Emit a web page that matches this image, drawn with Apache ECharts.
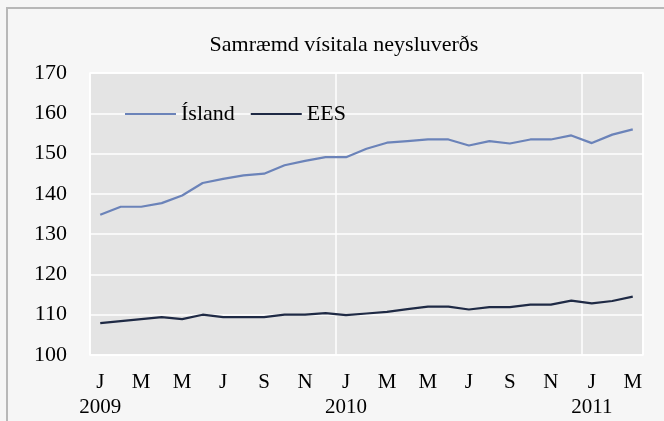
<!DOCTYPE html>
<html>
<head>
<meta charset="utf-8">
<script src="https://cdn.jsdelivr.net/npm/echarts@6/dist/echarts.min.js"></script>
<style>
  html, body { margin: 0; padding: 0; background: #f6f6f6; }
  #chart { width: 664px; height: 421px; }
  .edge { position: absolute; background: #b8b8b8; pointer-events: none; }
</style>
</head>
<body>
<div id="chart"></div>
<div class="edge" style="left:6px;top:7px;width:2px;height:414px;"></div>
<div class="edge" style="left:6px;top:7px;width:658px;height:2px;"></div>
<script>
// monthly, Jan 2009 - Mar 2011
var months = ['J','F','M','A','M','J','J','A','S','O','N','D'];
var years = ['2009', '2010', '2011'];
var island = [134.8, 136.8, 136.8, 137.7, 139.6, 142.7, 143.7, 144.6, 145.0, 147.1, 148.2, 149.1,
              149.1, 151.2, 152.7, 153.1, 153.5, 153.5, 152.0, 153.1, 152.5, 153.5, 153.5, 154.5,
              152.6, 154.7, 156.0];
var ees = [107.9, 108.4, 108.9, 109.4, 108.9, 110.0, 109.4, 109.4, 109.4, 110.0, 110.0, 110.4,
           109.9, 110.3, 110.7, 111.4, 112.0, 112.0, 111.3, 111.9, 111.9, 112.5, 112.5, 113.5,
           112.8, 113.4, 114.5];

var cats = island.map(function (v, i) { return i; });
var serif = '"Liberation Serif", "DejaVu Serif", serif';

var chart = echarts.init(document.getElementById('chart'));
chart.setOption({
    backgroundColor: '#f6f6f6',
    title: {
        text: 'Samræmd vísitala neysluverðs',
        left: 339,
        textAlign: 'center',
        top: 29,
        textStyle: { fontFamily: serif, fontSize: 22, fontWeight: 'normal', color: '#000' }
    },
    legend: {
        left: 120,
        top: 98,
        icon: 'rect',
        itemWidth: 51,
        itemHeight: 2,
        itemGap: 16,
        textStyle: { fontFamily: serif, fontSize: 22, color: '#000' },
        data: ['Ísland', 'EES']
    },
    grid: {
        left: 90, right: 21, top: 73, bottom: 66,
        show: true,
        backgroundColor: '#e4e4e4',
        borderColor: '#fff',
        borderWidth: 1.5
    },
    xAxis: {
        type: 'category',
        data: cats,
        boundaryGap: true,
        axisLine: { show: false },
        axisTick: { show: false },
        splitLine: {
            show: true,
            interval: function (i) { return i % 12 === 0; },
            lineStyle: { color: '#fff', width: 1.5 }
        },
        axisLabel: {
            interval: 0,
            margin: 15,
            fontFamily: serif,
            fontSize: 21,
            lineHeight: 25,
            color: '#000',
            formatter: function (v, i) {
                if (i % 2 !== 0) return '';
                var m = months[i % 12];
                if (i % 12 === 0) return m + '\n' + years[i / 12];
                return m + '\n ';
            }
        }
    },
    yAxis: {
        type: 'value',
        min: 100, max: 170, interval: 10,
        axisLine: { show: false },
        axisTick: { show: false },
        splitLine: { lineStyle: { color: '#fff', width: 1.5 } },
        axisLabel: { margin: 23, fontFamily: serif, fontSize: 22, color: '#000' }
    },
    series: [
        {
            name: 'Ísland', type: 'line', data: island,
            symbol: 'none', lineStyle: { color: '#6b83b9', width: 2.2 },
            itemStyle: { color: '#6b83b9' }
        },
        {
            name: 'EES', type: 'line', data: ees,
            symbol: 'none', lineStyle: { color: '#1f2a45', width: 2.2 },
            itemStyle: { color: '#1f2a45' }
        }
    ]
});
</script>
</body>
</html>
